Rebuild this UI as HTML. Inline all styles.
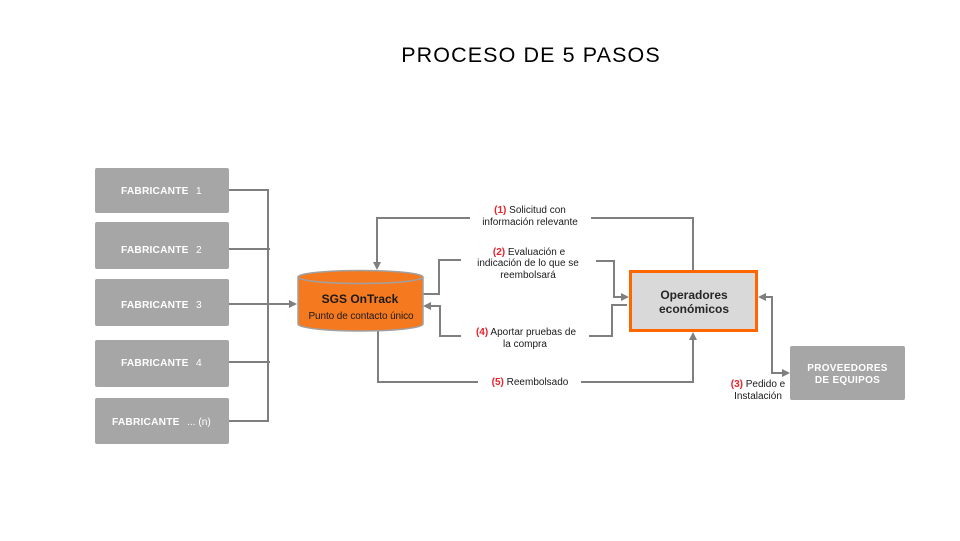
<!DOCTYPE html>
<html>
<head>
<meta charset="utf-8">
<style>
html,body{margin:0;padding:0;background:#fff;}
svg{display:block;}
text{font-family:"Liberation Sans",Arial,sans-serif;}
</style>
</head>
<body>
<svg width="960" height="541" viewBox="0 0 960 541" xmlns="http://www.w3.org/2000/svg">
<rect width="960" height="541" fill="#fff"/>
<!-- Title -->
<text x="531" y="62" text-anchor="middle" font-size="21.5" letter-spacing="1.1" fill="#000">PROCESO DE 5 PASOS</text>

<!-- Fabricante boxes -->
<g fill="#a6a6a6">
<rect x="95" y="168" width="134" height="45" rx="2"/>
<rect x="95" y="222" width="134" height="47" rx="2"/>
<rect x="95" y="279" width="134" height="47" rx="2"/>
<rect x="95" y="340" width="134" height="47" rx="2"/>
<rect x="95" y="398" width="134" height="46" rx="2"/>
</g>
<g fill="#fff" font-size="10.2">
<text x="121" y="194" font-weight="bold" letter-spacing="0.2">FABRICANTE</text><text x="196" y="194">1</text>
<text x="121" y="253" font-weight="bold" letter-spacing="0.2">FABRICANTE</text><text x="196" y="253">2</text>
<text x="121" y="308" font-weight="bold" letter-spacing="0.2">FABRICANTE</text><text x="196" y="308">3</text>
<text x="121" y="366" font-weight="bold" letter-spacing="0.2">FABRICANTE</text><text x="196" y="366">4</text>
<text x="112" y="425" font-weight="bold" letter-spacing="0.2">FABRICANTE</text><text x="187" y="425">... (n)</text>
</g>

<!-- Connectors -->
<g stroke="#7f7f7f" stroke-width="2" fill="none">
<line x1="229" y1="190" x2="269" y2="190"/>
<line x1="229" y1="249" x2="270" y2="249"/>
<line x1="229" y1="304" x2="270" y2="304"/>
<line x1="229" y1="362" x2="270" y2="362"/>
<line x1="229" y1="421" x2="269" y2="421"/>
<line x1="268" y1="189" x2="268" y2="422"/>
<line x1="270" y1="304" x2="290" y2="304"/>
<polyline points="693,270 693,218 591,218"/>
<polyline points="470,218 377,218 377,263"/>
<polyline points="423,294 439,294 439,260 461,260"/>
<polyline points="596,261 614,261 614,297 622,297"/>
<polyline points="627,305 612,305 612,336 589,336"/>
<polyline points="461,336 440,336 440,306 430,306"/>
<polyline points="378,331 378,382 478,382"/>
<polyline points="581,382 693,382 693,339"/>
<polyline points="765,297 772,297 772,373 783,373"/>
</g>
<g fill="#7f7f7f">
<polygon points="297,304 289,300 289,308"/>
<polygon points="377,270 373,262 381,262"/>
<polygon points="629,297 621,293 621,301"/>
<polygon points="423,306 431,302 431,310"/>
<polygon points="693,332 689,340 697,340"/>
<polygon points="758,297 766,293 766,301"/>
<polygon points="790,373 782,369 782,377"/>
</g>

<!-- Cylinder -->
<g stroke="#a0a0a0" stroke-width="1.5">
<path d="M298,277 L298,324 A62.5,7 0 0 0 423,324 L423,277" fill="#f5791f"/>
<ellipse cx="360.5" cy="277" rx="62.5" ry="6.5" fill="#f5791f"/>
</g>
<text x="360" y="303" text-anchor="middle" font-size="12" font-weight="bold" fill="#1a1a1a">SGS OnTrack</text>
<text x="361" y="319" text-anchor="middle" font-size="10" fill="#1a1a1a" letter-spacing="-0.1">Punto de contacto único</text>

<!-- Operadores -->
<rect x="630.5" y="271.5" width="126" height="59" fill="#d9d9d9" stroke="#ff6600" stroke-width="3"/>
<text x="694" y="299" text-anchor="middle" font-size="12" font-weight="bold" fill="#262626">Operadores</text>
<text x="694" y="313" text-anchor="middle" font-size="12" font-weight="bold" fill="#262626">económicos</text>

<!-- Proveedores -->
<rect x="790" y="346" width="115" height="54" rx="2" fill="#a6a6a6"/>
<text x="847.5" y="371" text-anchor="middle" font-size="10" font-weight="bold" fill="#fff" letter-spacing="0.3">PROVEEDORES</text>
<text x="847.5" y="383" text-anchor="middle" font-size="10" font-weight="bold" fill="#fff" letter-spacing="0.3">DE EQUIPOS</text>

<!-- Labels -->
<g font-size="10" fill="#1a1a1a" text-anchor="middle">
<text x="530" y="213"><tspan fill="#e8202a" font-weight="bold">(1)</tspan> Solicitud con</text>
<text x="530" y="225">información relevante</text>
<text x="529" y="255"><tspan fill="#e8202a" font-weight="bold">(2)</tspan> Evaluación e</text>
<text x="528" y="266">indicación de lo que se</text>
<text x="528" y="278">reembolsará</text>
<text x="526" y="335"><tspan fill="#e8202a" font-weight="bold">(4)</tspan> Aportar pruebas de</text>
<text x="525" y="347">la compra</text>
<text x="530" y="385"><tspan fill="#e8202a" font-weight="bold">(5)</tspan> Reembolsado</text>
<text x="758" y="387"><tspan fill="#e8202a" font-weight="bold">(3)</tspan> Pedido e</text>
<text x="758" y="399">Instalación</text>
</g>
</svg>
</body>
</html>
